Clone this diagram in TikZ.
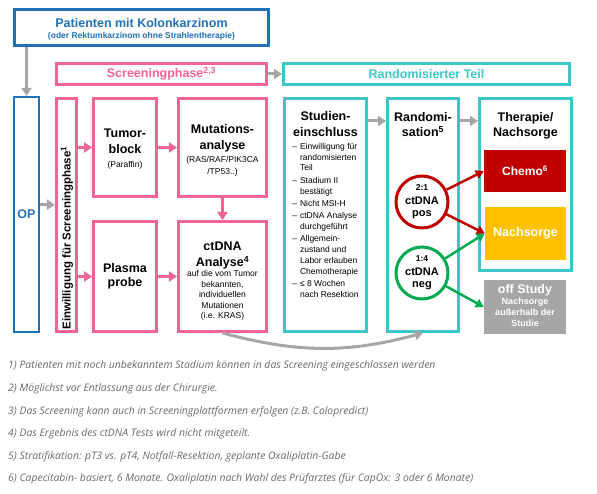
\documentclass[tikz,border=0pt]{standalone}
\usepackage{fontspec}
\setmainfont{Liberation Sans}
\newfontfamily\notefont{Open Sans}
\usetikzlibrary{arrows.meta,positioning}

\definecolor{blueC}{RGB}{31,113,186}
\definecolor{pinkC}{RGB}{240,100,145}
\definecolor{tealC}{RGB}{62,198,198}
\definecolor{greyC}{RGB}{166,166,166}
\definecolor{redC}{RGB}{192,0,0}
\definecolor{greenC}{RGB}{0,170,80}
\definecolor{yellowC}{RGB}{255,192,0}
\definecolor{noteC}{RGB}{105,105,105}

\newcommand\subtxt[2][\mdseries]{{\fontsize{8.5}{10.5}\selectfont#1\begin{tabular}[t]{@{}c@{}}#2\end{tabular}}}

\begin{document}
\begin{tikzpicture}[x=1pt, y=1pt,
  box/.style={draw, line width=3pt, inner sep=0pt, align=center, font=\fontsize{12.5}{15.5}\selectfont\bfseries},
  pbox/.style={box, draw=pinkC},
  tbox/.style={box, draw=tealC},
  fbox/.style={inner sep=0pt, align=center, text=white, font=\fontsize{12.5}{15.5}\selectfont\bfseries},
  ring/.style={circle, draw, line width=3pt, fill=white, inner sep=0pt, minimum size=52pt, align=center, font=\fontsize{11}{12.5}\selectfont\bfseries},
  hdr/.style={inner sep=0pt, align=center, font=\fontsize{12.5}{15.5}\selectfont\bfseries},
  note/.style={anchor=base west, inner sep=0pt, text=noteC, font=\notefont\itshape\fontsize{10.4}{12}\selectfont},
  garr/.style={draw=greyC, line width=3pt, -{Triangle[length=8pt,width=10pt]}},
  parr/.style={draw=pinkC, line width=3pt, -{Triangle[length=8pt,width=10pt]}},
  rarr/.style={draw=redC, line width=2.5pt, -{Triangle[length=8pt,width=9pt]}},
  gnarr/.style={draw=greenC, line width=2.5pt, -{Triangle[length=8pt,width=9pt]}}
]
\useasboundingbox (0,0) rectangle (597,493);

% top row
\node[box, draw=blueC, line width=2.5pt, text=blueC, minimum width=254pt, minimum height=36pt] (pat) at (141.5,465.5) {\rule{0pt}{14pt}Patienten mit Kolonkarzinom\\[-5pt]\subtxt[\bfseries]{(oder Rektumkarzinom ohne Strahlentherapie)}};
\node[pbox, text=pinkC, minimum width=210pt, minimum height=21pt] (screen) at (161.5,419) {Screeningphase\textsuperscript{2,3}};
\node[tbox, text=tealC, minimum width=286pt, minimum height=21pt] (rteil) at (426.5,419) {Randomisierter Teil};

% screening
\node[box, draw=blueC, line width=2.3pt, text=blueC, minimum width=25pt, minimum height=235pt] (op) at (26.5,278.5) {OP};
\node[pbox, minimum width=20pt, minimum height=233pt] (einw) at (66.5,278) {};
\node[rotate=90, inner sep=0pt, font=\fontsize{11.5}{13}\selectfont\bfseries] (einwtxt) at (67,255) {Einwilligung für Screeningphase\textsuperscript{1}};

\node[pbox, minimum width=63pt, minimum height=98pt] (tumor) at (125,345.5) {\rule{0pt}{13pt}Tumor-\\[1pt]block\\[-2pt]\subtxt{(Paraffin)}};
\node[pbox, minimum width=88pt, minimum height=98pt, right=19pt of tumor] (mut) {\rule{0pt}{17pt}Mutations-\\[0.5pt]analyse\\[-3pt]\subtxt{(RAS/RAF/PIK3CA\\[2pt]/TP53..)}};
\node[pbox, minimum width=63pt, minimum height=110pt, below=22pt of tumor] (plasma) {Plasma\\[-1pt]probe};
\node[pbox, minimum width=88pt, minimum height=110pt, right=19pt of plasma] (ctdna) {\rule{0pt}{20pt}ctDNA\\Analyse\textsuperscript{4}\\[-5pt]\subtxt{auf die vom Tumor\\bekannten,\\individuellen\\Mutationen\\(i.e. KRAS)}};

% randomised part
\node[tbox, minimum width=82pt, minimum height=233pt] (studien) at (325.5,278) {};
\node[hdr, below=14pt of studien.north] (stitle) {Studien-\\[1pt]einschluss};
\node[below=4.5pt of stitle, inner sep=0pt, font=\fontsize{8.5}{10.8}\selectfont] (slist) {\begin{tabular}{@{}l@{\hspace{3pt}}l@{}}
–&Einwilligung für\\&randomisierten\\&Teil\\[1.5pt]
–&Stadium II\\&bestätigt\\[1.5pt]
–&Nicht MSI-H\\[1.5pt]
–&ctDNA Analyse\\&durchgeführt\\[1.5pt]
–&Allgemein-\\&zustand und\\&Labor erlauben\\&Chemotherapie\\[1.5pt]
–&≤ 8 Wochen\\&nach Resektion\end{tabular}};

\node[tbox, minimum width=71pt, minimum height=233pt, right=18pt of studien] (rand) {};
\node[hdr, below=15pt of rand.north] (rtitle) {Randomi-\\sation\textsuperscript{5}};
\node[ring, draw=redC] (pos) at (422,291) {{\fontsize{8.5}{10}\selectfont 2:1}\\[1pt]ctDNA\\pos};
\node[ring, draw=greenC] (neg) at (422,220) {{\fontsize{8.5}{10}\selectfont 1:4}\\[1pt]ctDNA\\neg};

\node[tbox, minimum width=92pt, minimum height=172pt] (thera) at (525.5,308.5) {};
\node[hdr, below=15pt of thera.north] (ttitle) {Therapie/\\Nachsorge};
\node[fbox, fill=redC, minimum width=82pt, minimum height=42pt, font=\fontsize{12}{15}\selectfont\bfseries] (chemo) at (525,322) {Chemo\textsuperscript{6}};
\node[fbox, fill=yellowC, minimum width=81pt, minimum height=53pt] (nach) at (525.5,259.5) {Nachsorge};
\node[fbox, fill=greyC, minimum width=82pt, minimum height=54pt] (off) at (525,186) {off Study\\[-4.5pt]\subtxt[\bfseries\fontsize{9}{11}\selectfont]{Nachsorge\\außerhalb der\\Studie}};

% connectors
\draw[garr] (pat.south -| op) -- (op.north);
\draw[garr] (screen) -- (rteil);
\draw[garr] ([yshift=10pt]op.east) -- ([yshift=10pt]einw.west);
\draw[parr] (einw.east |- tumor) -- (tumor.west);
\draw[parr] (einw.east |- plasma) -- (plasma.west);
\draw[parr] (tumor) -- (mut);
\draw[parr] (mut) -- (ctdna);
\draw[parr] (plasma) -- (ctdna);
\coordinate (starr) at ([yshift=94pt]studien.east);
\coordinate (tharr) at ([yshift=94pt]rand.east);
\draw[garr] (starr) -- (starr -| rand.west);
\draw[garr] (tharr) -- (tharr -| thera.west);
\draw[garr] (ctdna.south) to[bend right=15] (rand.south);
\draw[rarr] (pos) -- (chemo.west);
\draw[rarr] (pos) -- (nach.west);
\draw[gnarr] (neg) -- (nach.west);
\draw[gnarr] (neg) -- (off.west);

% footnotes
\node[note] (fn1) at (8,124.5) {1) Patienten mit noch unbekanntem Stadium können in das Screening eingeschlossen werden};
\node[note] (fn2) at (8,101.5) {2) Möglichst vor Entlassung aus der Chirurgie.};
\node[note] (fn3) at (8,78.5) {3) Das Screening kann auch in Screeningplattformen erfolgen (z.B. Colopredict)};
\node[note] (fn4) at (8,56.5) {4) Das Ergebnis des ctDNA Tests wird nicht mitgeteilt.};
\node[note] (fn5) at (8,33.5) {5) Stratifikation: pT3 vs. pT4, Notfall-Resektion, geplante Oxaliplatin-Gabe};
\node[note] (fn6) at (8,11.5) {6) Capecitabin- basiert, 6 Monate. Oxaliplatin nach Wahl des Prüfarztes (für CapOx: 3 oder 6 Monate)};

\end{tikzpicture}
\end{document}
